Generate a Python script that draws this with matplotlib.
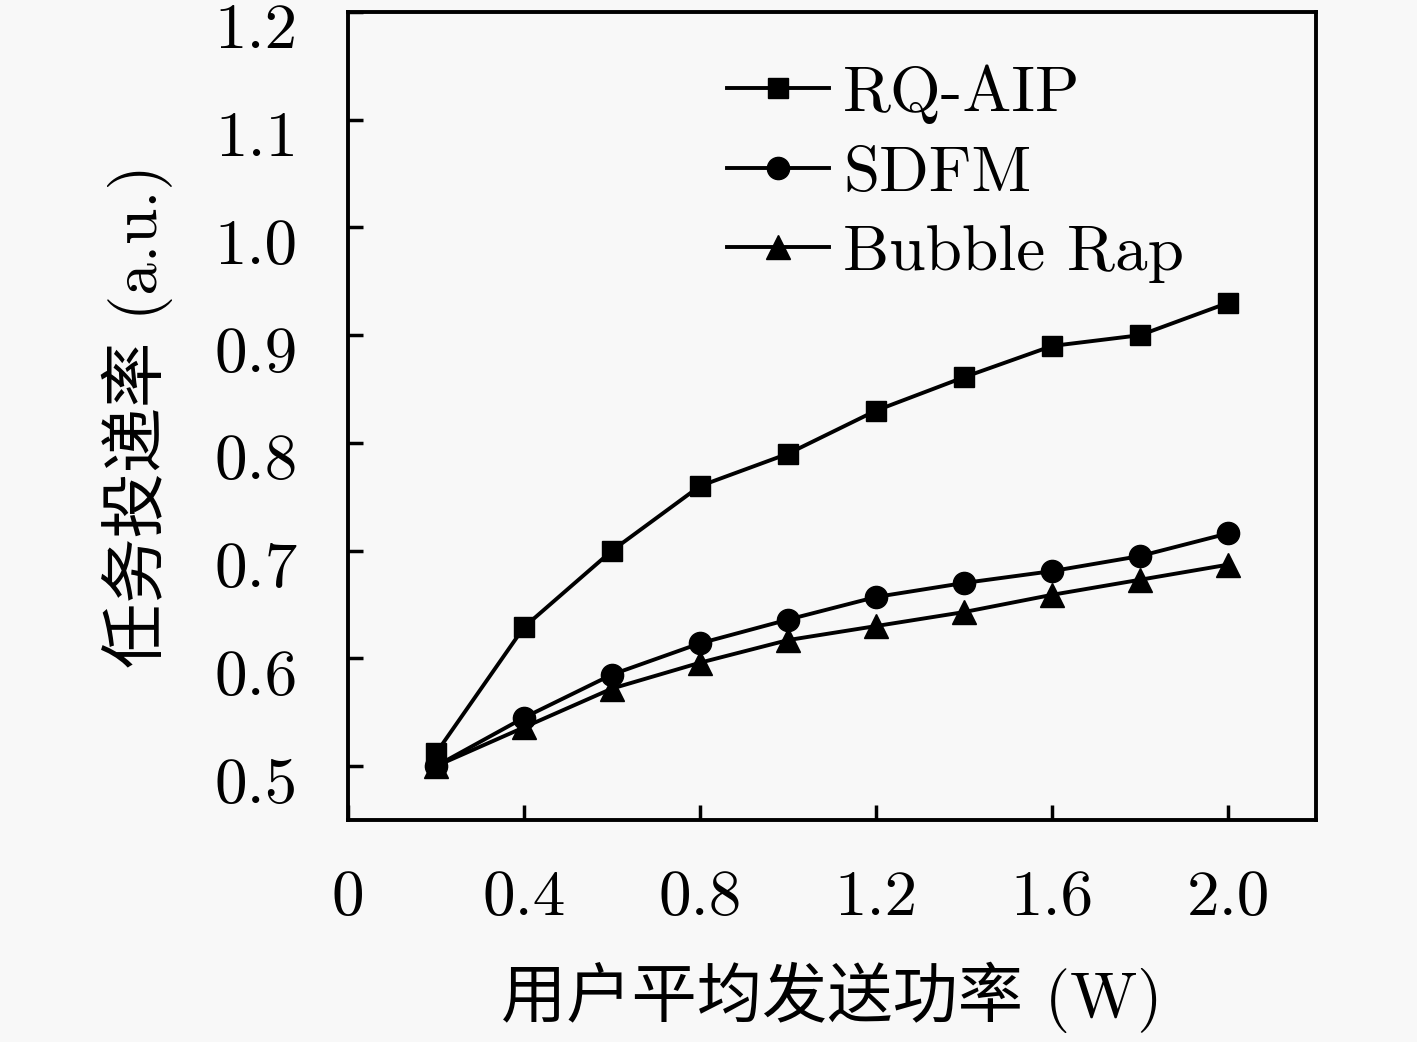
import numpy as np
import matplotlib
matplotlib.use('Agg')
from matplotlib import pyplot as plt
from matplotlib.transforms import ScaledTranslation

plt.rcParams['font.family'] = ['cmr10', 'Noto Sans CJK SC']
plt.rcParams['axes.unicode_minus'] = False

# data
power = [0.2, 0.4, 0.6, 0.8, 1.0, 1.2, 1.4, 1.6, 1.8, 2.0]
rq_aip = [0.512, 0.629, 0.700, 0.760, 0.790, 0.830, 0.861, 0.890, 0.900, 0.930]
sdfm = [0.500, 0.545, 0.585, 0.614, 0.636, 0.657, 0.670, 0.681, 0.695, 0.716]
bubble = [0.500, 0.536, 0.572, 0.596, 0.617, 0.630, 0.643, 0.659, 0.673, 0.687]

xticks = [0, 0.4, 0.8, 1.2, 1.6, 2.0]
xticklabels = ['0', '0.4', '0.8', '1.2', '1.6', '2.0']
yticks = [0.5, 0.6, 0.7, 0.8, 0.9, 1.0, 1.1, 1.2]
yticklabels = ['0.5', '0.6', '0.7', '0.8', '0.9', '1.0', '1.1', '1.2']

bg = '#f8f8f8'
fs = 47
fig = plt.figure(figsize=(14.17, 10.42), dpi=100, facecolor=bg)
ax = fig.add_axes([348/1417, 1 - 820/1042, 968/1417, 808/1042], facecolor=bg)

ax.plot(power, rq_aip, 'k-', marker='s', ms=14, lw=2.8, label='RQ-AIP')
ax.plot(power, sdfm, 'k-', marker='o', ms=16, lw=2.8, label='SDFM')
ax.plot(power, bubble, 'k-', marker='^', ms=17, lw=2.8, label='Bubble Rap')

ax.set_xlim(0, 2.2)
ax.set_ylim(0.45, 1.2)
ax.set_xticks(xticks)
ax.set_xticklabels(xticklabels)
ax.set_yticks(yticks)
ax.set_yticklabels(yticklabels)
ax.tick_params(direction='in', length=11, width=2.5, labelsize=fs)
ax.tick_params(axis='x', pad=36)
ax.tick_params(axis='y', pad=36)
for s in ax.spines.values():
    s.set_linewidth(2.8)

# y tick labels sit a bit below their ticks in the original
off = ScaledTranslation(0, -14/100, fig.dpi_scale_trans)
for lab in ax.get_yticklabels():
    lab.set_transform(lab.get_transform() + off)

ax.set_xlabel('用户平均发送功率 (W)', fontsize=fs, labelpad=24)
ax.set_ylabel('任务投递率 (a.u.)', fontsize=fs, labelpad=30)

ax.legend(loc='upper left', bbox_to_anchor=(0.392, 0.935), frameon=False,
          fontsize=fs, handlelength=1.55, handletextpad=0.22,
          labelspacing=0.32, borderpad=0, borderaxespad=0)

plt.savefig('out.png', facecolor=bg)
